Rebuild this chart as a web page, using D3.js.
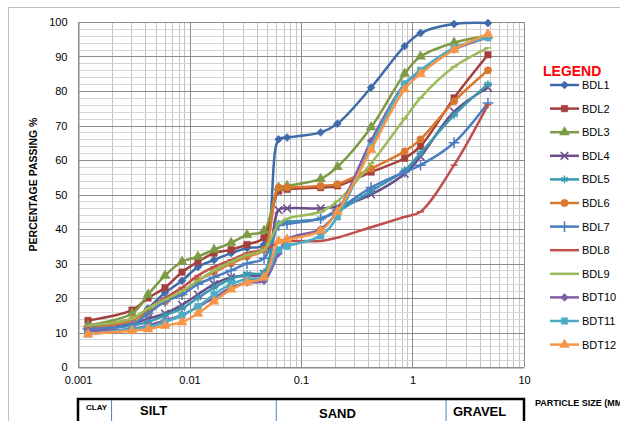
<!DOCTYPE html>
<html>
<head>
<meta charset="utf-8">
<script src="https://cdn.jsdelivr.net/npm/d3@7"></script>
<style>
  body { margin: 0; background: #fff; }
  svg { display: block; font-family: "Liberation Sans", Arial, sans-serif; }
</style>
</head>
<body>
<div class="chart"></div>
<script>
// particle sizes (mm) - hydrometer points then sieves
var particleSizes = [0.00123, 0.00305, 0.00425, 0.00603, 0.00857, 0.0119, 0.0166, 0.0236, 0.0328, 0.0466,
                     0.063, 0.075, 0.15, 0.212, 0.425, 0.85, 1.18, 2.36, 4.75];

var bdl1  = [11.5, 13.5, 17, 21.5, 25, 29, 31, 33, 34.5, 35.5, 66, 66.5, 68, 70.5, 81, 93, 96.8, 99.4, 99.7];
var bdl2  = [13.5, 16.5, 20, 23, 27.5, 30.5, 33, 34, 35.5, 37.5, 51, 51.5, 52, 52.5, 56.5, 60.5, 64, 78, 90.5];
var bdl3  = [12, 15.5, 21, 26.5, 30.5, 32, 34, 36, 38.3, 39.5, 52, 52.5, 54.5, 58, 69.5, 85, 90, 94, 96];
var bdl4  = [11, 12.5, 14, 15.5, 18, 21, 24, 26, 26.5, 27, 45.5, 46, 46, 46.5, 50, 56, 61, 74, 81];
var bdl5  = [10.5, 12, 13, 15, 17, 20, 23, 25.5, 27, 27.5, 41.5, 42, 43, 45, 51, 57, 62, 73, 82];
var bdl6  = [11, 13.5, 16, 19, 21.5, 25, 27.5, 30, 32, 34, 52, 52, 52.5, 53, 57.5, 62.5, 66, 77, 86];
var bdl7  = [11, 12.5, 15.5, 19, 21, 24, 26, 28, 30, 31.5, 41, 41.5, 43, 45.5, 52, 56.5, 58.5, 65, 76.5];
var bdl8  = [12, 14, 17, 20, 23, 26.5, 29, 31, 33, 34, 36, 36.5, 36.5, 37.5, 40.5, 43.5, 45, 58.5, 76];
var bdl9  = [12, 14, 17, 19.5, 22, 25, 28, 30.5, 32.5, 34, 41.5, 43, 45, 48, 59, 72, 78, 87, 92.5];
var bdt10 = [10.5, 11, 12, 13.5, 15, 17.5, 20, 23, 24.5, 25, 33, 37, 40, 45, 65.5, 82, 85.5, 92, 95.5];
var bdt11 = [9.5, 11, 11.5, 13, 15, 17.5, 21, 24, 25.5, 26, 34, 35, 38, 43.5, 64, 82, 86, 92.5, 95.5];
var bdt12 = [9.5, 10.5, 11, 12, 13, 15.5, 19, 22.5, 24.5, 26, 36.5, 37, 39.5, 45, 63, 80.5, 85, 92, 96.5];

var seriesNames = ["BDL1", "BDL2", "BDL3", "BDL4", "BDL5", "BDL6", "BDL7", "BDL8", "BDL9", "BDT10", "BDT11", "BDT12"];
var xTicks = [0.001, 0.01, 0.1, 1, 10];
var yTicks = [0, 10, 20, 30, 40, 50, 60, 70, 80, 90, 100];
var zones = ["CLAY", "SILT", "SAND", "GRAVEL"];
var zoneLimits = [0.002, 0.06, 2];

var colors = ["#3F6BAA", "#A33F3C", "#7D9B45", "#6A4E8B", "#3A9AB0", "#D9782F",
              "#4A7EC0", "#C0504D", "#9BBB59", "#7F5FA5", "#4BACC6", "#F79646"];
var markers = ["diamond", "square", "triangle", "times", "asterisk", "circle",
               "plus", "dash", "dash", "diamond", "square", "triangle"];

var allValues = [bdl1, bdl2, bdl3, bdl4, bdl5, bdl6, bdl7, bdl8, bdl9, bdt10, bdt11, bdt12];
var series = seriesNames.map(function (name, i) {
    return {
        name: name,
        color: colors[i],
        marker: markers[i],
        points: particleSizes.map(function (s, j) { return { size: s, pass: allValues[i][j] }; })
    };
});

var width = 620, height = 421;
var x = d3.scaleLog().domain([0.001, 10]).range([78, 524]);
var y = d3.scaleLinear().domain([0, 100]).range([367, 22]);

var svg = d3.select(".chart").append("svg")
    .attr("width", width)
    .attr("height", height);

// outer chart frame
svg.append("path")
    .attr("d", "M8.5,421 V7.5 H620")
    .attr("fill", "none")
    .attr("stroke", "#BFBFBF");

// grid
var grid = svg.append("g");
var minorX = [];
[0.001, 0.01, 0.1, 1].forEach(function (d) {
    for (var k = 2; k <= 9; k++) minorX.push(d * k);
});
grid.selectAll(".vminor").data(minorX).enter().append("line")
    .attr("x1", function (d) { return Math.round(x(d)) + 0.5; })
    .attr("x2", function (d) { return Math.round(x(d)) + 0.5; })
    .attr("y1", y(100)).attr("y2", y(0))
    .attr("stroke", "#C4C4C4").attr("stroke-width", 1);

var minorY = d3.range(2, 100, 2).filter(function (d) { return d % 10 !== 0; });
grid.selectAll(".hminor").data(minorY).enter().append("line")
    .attr("x1", x(0.001)).attr("x2", x(10))
    .attr("y1", function (d) { return Math.round(y(d)) + 0.5; })
    .attr("y2", function (d) { return Math.round(y(d)) + 0.5; })
    .attr("stroke", "#D6D6D6").attr("stroke-width", 1);

grid.selectAll(".hmajor").data(yTicks).enter().append("line")
    .attr("x1", x(0.001)).attr("x2", x(10))
    .attr("y1", function (d) { return Math.round(y(d)) + 0.5; })
    .attr("y2", function (d) { return Math.round(y(d)) + 0.5; })
    .attr("stroke", "#8C8C8C").attr("stroke-width", 1);

grid.selectAll(".vmajor").data(xTicks).enter().append("line")
    .attr("x1", function (d) { return Math.round(x(d)) + 0.5; })
    .attr("x2", function (d) { return Math.round(x(d)) + 0.5; })
    .attr("y1", y(100)).attr("y2", y(0))
    .attr("stroke", "#8C8C8C").attr("stroke-width", 1);

// axes
var xAxis = d3.axisBottom(x).tickValues(xTicks).tickSize(0).tickPadding(9)
    .tickFormat(function (d) { return String(d); });
svg.append("g").attr("transform", "translate(0," + (y(0) + 0.5) + ")").call(xAxis)
    .call(function (g) {
        g.select(".domain").attr("stroke", "#8C8C8C");
        g.selectAll("text").attr("font-size", 11).attr("fill", "#000");
    });

var yAxis = d3.axisLeft(y).tickValues(yTicks).tickSize(0).tickPadding(11);
svg.append("g").attr("transform", "translate(" + (x(0.001) + 0.5) + ",0)").call(yAxis)
    .call(function (g) {
        g.select(".domain").attr("stroke", "#8C8C8C");
        g.selectAll("text").attr("font-size", 11).attr("fill", "#000");
    });

svg.append("text")
    .attr("transform", "translate(37," + (y(50) - 10) + ") rotate(-90)")
    .attr("text-anchor", "middle")
    .attr("font-size", 10.5).attr("font-weight", "bold")
    .text("PERCENTAGE PASSING %");

// markers
function markerPath(type) {
    var s;
    if (type === "diamond") s = d3.symbol(d3.symbolDiamond2 || d3.symbolDiamond, 40);
    else if (type === "square") s = d3.symbol(d3.symbolSquare, 42);
    else if (type === "triangle") s = d3.symbol(d3.symbolTriangle, 42);
    else if (type === "circle") s = d3.symbol(d3.symbolCircle, 42);
    else if (type === "times") s = d3.symbol(d3.symbolTimes || d3.symbolCross, 40);
    else if (type === "asterisk") s = d3.symbol(d3.symbolAsterisk || d3.symbolCross, 40);
    else if (type === "plus") s = d3.symbol(d3.symbolPlus || d3.symbolCross, 40);
    else return "M-3.5,0H3.5";
    return s();
}
function strokeOnly(type) {
    return type === "times" || type === "asterisk" || type === "plus" || type === "dash";
}

var line = d3.line()
    .curve(d3.curveCatmullRom.alpha(0.5))
    .x(function (d) { return x(d.size); })
    .y(function (d) { return y(d.pass); });

var plot = svg.append("g");
series.forEach(function (s) {
    var g = plot.append("g");
    g.append("path")
        .attr("d", line(s.points))
        .attr("fill", "none")
        .attr("stroke", s.color)
        .attr("stroke-width", 2.5)
        .attr("stroke-linejoin", "round");
    g.selectAll("path.m").data(s.points).enter().append("path")
        .attr("class", "m")
        .attr("transform", function (d) { return "translate(" + x(d.size) + "," + y(d.pass) + ")"; })
        .attr("d", markerPath(s.marker))
        .attr("fill", strokeOnly(s.marker) ? "none" : s.color)
        .attr("stroke", s.color)
        .attr("stroke-width", strokeOnly(s.marker) ? 1.5 : 0.5);
});

// legend
svg.append("text")
    .attr("x", 543).attr("y", 76)
    .attr("font-size", 14).attr("font-weight", "bold")
    .attr("fill", "#FF0000")
    .text("LEGEND");

var legend = svg.append("g").selectAll("g").data(series).enter().append("g")
    .attr("transform", function (d, i) { return "translate(0," + (85 + i * 23.6) + ")"; });
legend.append("line")
    .attr("x1", 550).attr("x2", 579)
    .attr("stroke", function (d) { return d.color; })
    .attr("stroke-width", 2.5);
legend.append("path")
    .attr("transform", "translate(564.5,0)")
    .attr("d", function (d) { return markerPath(d.marker); })
    .attr("fill", function (d) { return strokeOnly(d.marker) ? "none" : d.color; })
    .attr("stroke", function (d) { return d.color; })
    .attr("stroke-width", function (d) { return strokeOnly(d.marker) ? 1.5 : 0.5; });
legend.append("text")
    .attr("x", 582).attr("y", 4)
    .attr("font-size", 11)
    .text(function (d) { return d.name; });

// soil classification box
var box = svg.append("g");
box.append("rect")
    .attr("x", x(0.001)).attr("y", 399)
    .attr("width", x(10) - x(0.001)).attr("height", 40)
    .attr("fill", "none")
    .attr("stroke", "#000")
    .attr("stroke-width", 2.5);
box.selectAll("line").data(zoneLimits).enter().append("line")
    .attr("x1", function (d) { return x(d); })
    .attr("x2", function (d) { return x(d); })
    .attr("y1", 400).attr("y2", 421)
    .attr("stroke", "#4F81BD").attr("stroke-width", 1);

var zoneText = [
    { t: zones[0], x: 86, y: 410, size: 8 },
    { t: zones[1], x: 140, y: 415, size: 13 },
    { t: zones[2], x: 319, y: 418, size: 13 },
    { t: zones[3], x: 453, y: 416, size: 13 }
];
box.selectAll("text").data(zoneText).enter().append("text")
    .attr("x", function (d) { return d.x; })
    .attr("y", function (d) { return d.y; })
    .attr("font-size", function (d) { return d.size; })
    .attr("font-weight", "bold")
    .text(function (d) { return d.t; });

svg.append("text")
    .attr("x", 535).attr("y", 406)
    .attr("font-size", 9).attr("font-weight", "bold")
    .text("PARTICLE SIZE (MM)");
</script>
</body>
</html>
